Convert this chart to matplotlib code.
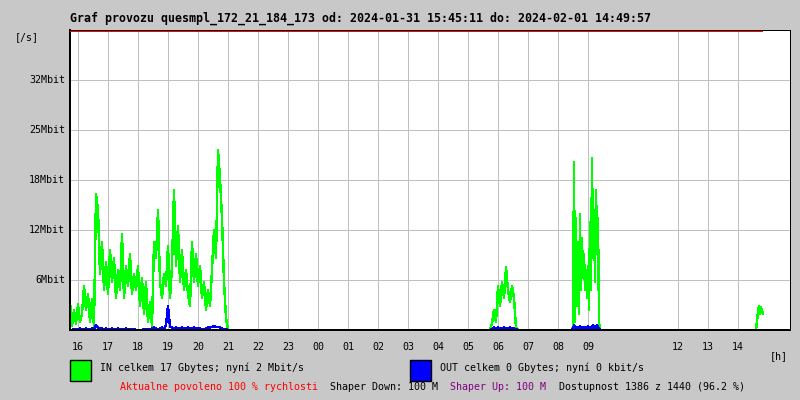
import numpy as np
import matplotlib
matplotlib.use("Agg")
import matplotlib.pyplot as plt
import matplotlib.transforms as mtransforms

plt.rcParams['font.family'] = ['DejaVu Sans Mono']

# time axis in minutes from the left edge (15:44), one sample per segment step
hour_labels = ['16', '17', '18', '19', '20', '21', '22', '23', '00', '01', '02',
               '03', '04', '05', '06', '07', '08', '09', '12', '13', '14']
hour_index = [0, 1, 2, 3, 4, 5, 6, 7, 8, 9, 10, 11, 12, 13, 14, 15, 16, 17, 20, 21, 22]
first_hour_min = 16

y_ticks = [6.25, 12.5, 18.75, 25.0, 31.25]
y_labels = ['6Mbit', '12Mbit', '18Mbit', '25Mbit', '32Mbit']
y_max = 37.5
data_end_min = 1386

# segments: (start minute, step minutes, IN Mbit/s, OUT Mbit/s)
seg1_start, seg1_step = 0, 4
seg1_in = [3.5, 0.5, 2.5, 0.8, 3.2, 1.0, 2.0, 5.5, 2.5, 4.5,
           1.0, 3.8, 0.5, 17.0, 15.0, 7.0, 11.0, 5.0, 8.5, 4.5,
           10.0, 6.0, 9.0, 4.0, 7.5, 5.0, 12.0, 4.0, 8.0, 5.5,
           9.5, 4.5, 7.0, 5.0, 8.0, 3.0, 6.5, 2.0, 6.0, 1.0,
           3.5, 0.5, 11.0, 9.0, 15.0, 6.0, 4.0, 7.0, 5.5, 10.5,
           4.0, 8.0, 17.5, 8.0, 13.0, 6.0, 10.0, 5.0, 7.5, 4.5,
           3.0, 11.0, 6.0, 9.5, 5.5, 8.0, 4.0, 6.0, 2.5, 5.0,
           3.0, 7.5, 12.5, 9.0, 22.5, 19.0, 14.0, 6.0, 1.5, 0.0]
seg1_out = [0.0, 0.0, 0.1, 0.1, 0.1, 0.2, 0.1, 0.1, 0.2, 0.1,
            0.1, 0.2, 0.1, 0.6, 0.3, 0.2, 0.2, 0.1, 0.2, 0.1,
            0.1, 0.2, 0.1, 0.1, 0.2, 0.1, 0.1, 0.1, 0.2, 0.1,
            0.1, 0.1, 0.1, 0.0, 0.0, 0.0, 0.0, 0.1, 0.1, 0.1,
            0.1, 0.2, 0.3, 0.2, 0.1, 0.2, 0.3, 0.2, 0.6, 3.0,
            0.4, 0.3, 0.2, 0.3, 0.2, 0.2, 0.3, 0.2, 0.2, 0.3,
            0.2, 0.2, 0.3, 0.2, 0.2, 0.2, 0.1, 0.1, 0.2, 0.3,
            0.3, 0.4, 0.5, 0.4, 0.4, 0.3, 0.2, 0.1, 0.1, 0.0]

seg2_start, seg2_step = 840, 4
seg2_in = [0.0, 0.8, 2.5, 1.0, 5.5, 3.0, 6.0, 4.0, 7.8, 5.0, 3.5, 5.5, 4.0, 0.3, 0.0]
seg2_out = [0.0, 0.1, 0.3, 0.2, 0.3, 0.2, 0.2, 0.3, 0.2, 0.2, 0.3, 0.2, 0.2, 0.1, 0.0]

seg3_start, seg3_step = 1004, 2
seg3_in = [0.0, 0.5, 21.0, 1.0, 14.0, 3.0, 11.0, 2.0, 14.5, 5.0,
           11.5, 6.5, 9.5, 5.0, 7.5, 4.0, 8.0, 2.5, 13.5, 5.0,
           21.5, 9.0, 15.0, 6.0, 17.5, 11.0, 14.0, 1.0, 0.0]
seg3_out = [0.0, 0.2, 0.6, 0.3, 0.2, 0.4, 0.2, 0.3, 0.5, 0.2,
            0.3, 0.2, 0.4, 0.3, 0.2, 0.3, 0.5, 0.3, 0.2, 0.4,
            0.3, 0.6, 0.3, 0.5, 0.3, 0.6, 0.3, 0.2, 0.0]

seg4_start, seg4_step = 1372, 2
seg4_in = [0.0, 1.2, 2.2, 3.0, 2.0, 2.8, 2.4, 2.0]
seg4_out = [0.0, 0.0, 0.0, 0.0, 0.0, 0.0, 0.0, 0.0]

segments = [(seg1_start, seg1_step, seg1_in, seg1_out),
            (seg2_start, seg2_step, seg2_in, seg2_out),
            (seg3_start, seg3_step, seg3_in, seg3_out),
            (seg4_start, seg4_step, seg4_in, seg4_out)]

BG = '#c8c8c8'
PX = 0.72  # one pixel in points at 100 dpi
fig = plt.figure(figsize=(8, 4), dpi=100, facecolor=BG)
ax = fig.add_axes([70 / 800, 70 / 400, 720 / 800, 300 / 400])
ax.set_facecolor('white')
ax.set_xlim(0, 1440)
ax.set_ylim(0, y_max)

hour_pos = [first_hour_min + 60 * i for i in hour_index]
for xp in hour_pos:
    ax.axvline(xp, color='#c0c0c0', lw=PX, zorder=1, antialiased=False)
for yp in y_ticks:
    ax.axhline(yp, color='#c0c0c0', lw=PX, zorder=1, antialiased=False)

for start, step, vin, vout in segments:
    t = start + step * np.arange(len(vin))
    ax.plot(t, vin, color='#00ff00', lw=PX * 1.4, zorder=3, antialiased=False)
    ax.plot(t, vout, color='#0000ff', lw=PX * 1.4, zorder=4, antialiased=False)

# red line marking the measured period, one pixel row just under the top border
trans = mtransforms.blended_transform_factory(ax.transData, fig.transFigure)
ax.add_patch(plt.Rectangle((0, 1 - 32 / 400), data_end_min, 1 / 400, transform=trans,
                           facecolor='#ff0000', edgecolor='none', zorder=7,
                           clip_on=False, antialiased=False))

ax.set_xticks([])
ax.set_yticks([])
for side in ['left', 'bottom']:
    ax.spines[side].set_linewidth(2 * PX)
for side in ['top', 'right']:
    ax.spines[side].set_linewidth(PX)
for s in ax.spines.values():
    s.set_color('black')
    s.set_zorder(6)

fs = 7.2

def px(x, y):
    return x / 800, 1 - y / 400

for yp, lab in zip(y_ticks, y_labels):
    yy = 330 - yp * 8
    fig.text(*px(65, yy), lab, ha='right', va='center', fontsize=fs)
for xp, lab in zip(hour_pos, hour_labels):
    fig.text(*px(70 + xp / 2, 347), lab, ha='center', va='center', fontsize=fs)

fig.text(*px(70, 18), 'Graf provozu quesmpl_172_21_184_173 od: 2024-01-31 15:45:11 do: 2024-02-01 14:49:57',
         ha='left', va='center', fontsize=8.4, fontweight='bold')
fig.text(*px(15, 37), '[/s]', ha='left', va='center', fontsize=fs)
fig.text(*px(770, 356), '[h]', ha='left', va='center', fontsize=fs)

fig.patches.append(plt.Rectangle(px(70, 381), 21 / 800, 21 / 400, transform=fig.transFigure,
                                 facecolor='#00ff00', edgecolor='black', lw=PX * 1.4))
fig.patches.append(plt.Rectangle(px(410, 381), 21 / 800, 21 / 400, transform=fig.transFigure,
                                 facecolor='#0000ff', edgecolor='black', lw=PX * 1.4))
fig.text(*px(100, 368), 'IN celkem 17 Gbytes; nyní 2 Mbit/s', ha='left', va='center', fontsize=fs)
fig.text(*px(440, 368), 'OUT celkem 0 Gbytes; nyní 0 kbit/s', ha='left', va='center', fontsize=fs)

fig.text(*px(120, 387), 'Aktualne povoleno 100 % rychlosti', ha='left', va='center', fontsize=fs, color='#ff0000')
fig.text(*px(330, 387), 'Shaper Down: 100 M', ha='left', va='center', fontsize=fs, color='black')
fig.text(*px(450, 387), 'Shaper Up: 100 M', ha='left', va='center', fontsize=fs, color='#800080')
fig.text(*px(559, 387), 'Dostupnost 1386 z 1440 (96.2 %)', ha='left', va='center', fontsize=fs, color='black')

fig.savefig('out.png', dpi=100, facecolor=BG)
